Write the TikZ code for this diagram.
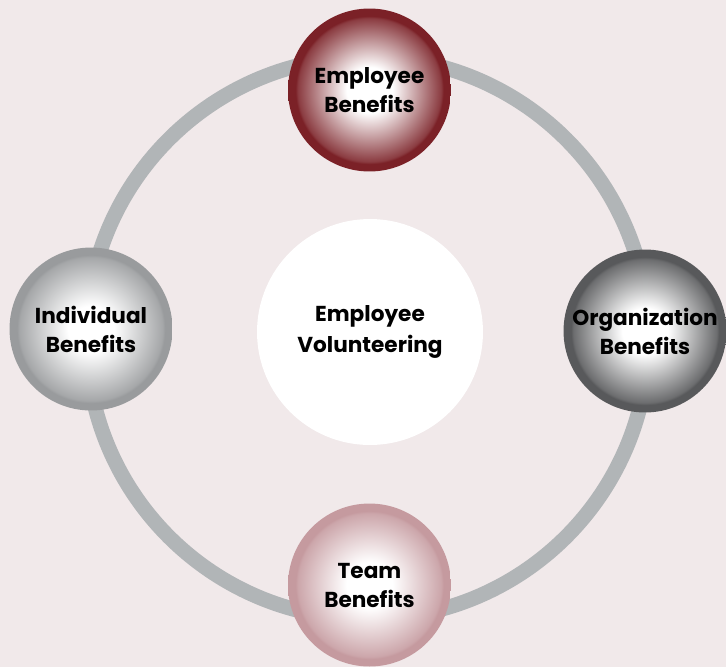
\documentclass[tikz,border=0pt]{standalone}
\usepackage{fontspec}
\setmainfont{Poppins}
\usepackage{tikz}

\definecolor{bgpink}{HTML}{F1E9EA}
\definecolor{ringgray}{HTML}{B1B5B7}
\definecolor{empred}{HTML}{7B2127}
\definecolor{indgray}{HTML}{999B9D}
\definecolor{orggray}{HTML}{58595B}
\definecolor{teampink}{HTML}{C59A9F}

% shaded balls: white core, coloured rim
\newcommand\ballshading[2]{%
  \pgfdeclareradialshading{#1}{\pgfpointorigin}{%
    color(0bp)=(white); color(7bp)=(white); color(22bp)=(#2!88!white);
    color(22.7bp)=(#2); color(25bp)=(#2); color(50bp)=(#2)}}
\ballshading{empball}{empred}
\ballshading{indball}{indgray}
\ballshading{orgball}{orggray}
\ballshading{teamball}{teampink}

\tikzset{
  ring/.style={draw=ringgray,line width=0.3cm},
  ball/.style={circle,minimum size=3.26cm,inner sep=0pt,align=center,
    shade,shading=#1,font=\bfseries\fontsize{12.3}{16.5}\selectfont},
  hub/.style={circle,fill=white,minimum size=4.52cm,inner sep=0pt,align=center,
    font=\bfseries\fontsize{12.3}{17.5}\selectfont}
}

\begin{document}
\begin{tikzpicture}[x=0.02cm,y=-0.02cm]
  \fill[bgpink] (0,0) rectangle (726,667);
  \useasboundingbox (0,0) rectangle (726,667);

  \coordinate (ringc) at (367.5,338);
  \draw[ring] (ringc) circle (281);

  \node[hub] (vol) at (370,332) {Employee\\Volunteering};

  \node[ball=empball] (emp) at (369.5,90) {Employee\\Benefits};
  \node[ball=indball] (ind) at (91,329) {Individual\\Benefits};
  \node[ball=orgball] (org) at (645,331) {Organization\\Benefits};
  \node[ball=teamball] (team) at (369.5,585) {Team\\Benefits};
\end{tikzpicture}
\end{document}
